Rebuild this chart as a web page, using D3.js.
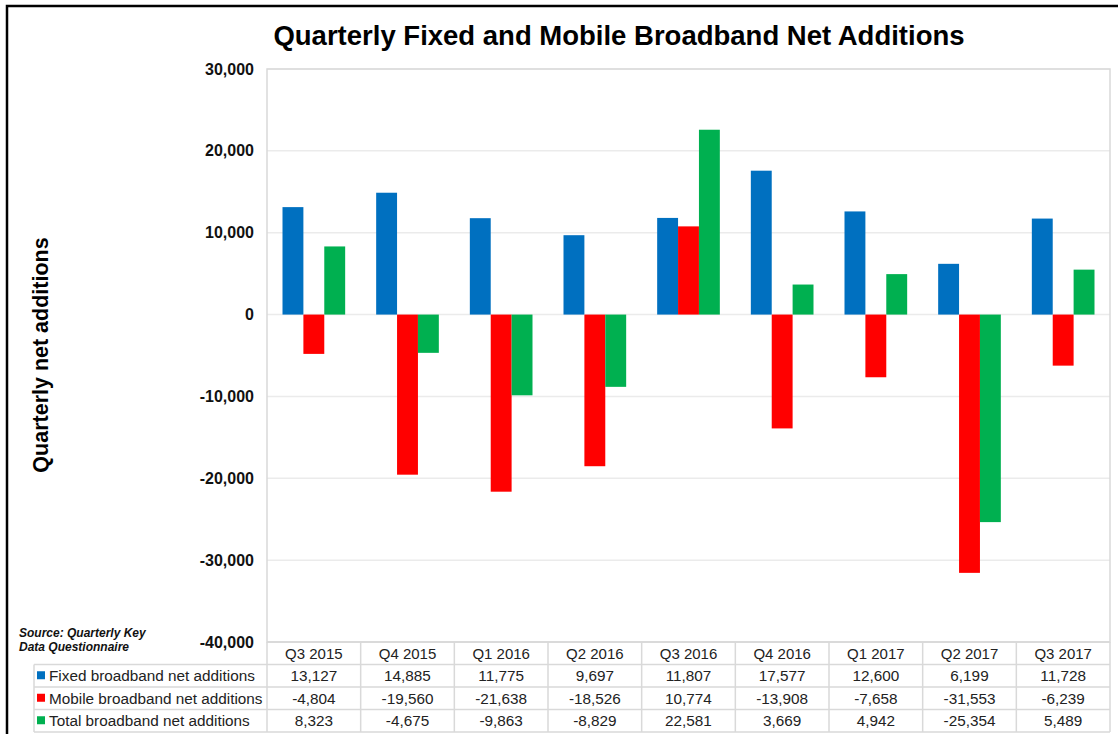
<!DOCTYPE html>
<html>
<head>
<meta charset="utf-8">
<script src="https://cdn.jsdelivr.net/npm/d3@7"></script>
<style>
  body { margin: 0; background: #fff; }
  svg { display: block; font-family: Arial, "Liberation Sans", sans-serif; }
</style>
</head>
<body>
<div id="chart"></div>
<script>
const WIDTH = 1118, HEIGHT = 734;
const PLOT_LEFT = 267, PLOT_RIGHT = 1110, PLOT_TOP = 69, PLOT_BOT = 642;
const ROW_H = 22.5;
const LEGEND_LEFT = 34;

// data
const quarters = ["Q3 2015", "Q4 2015", "Q1 2016", "Q2 2016", "Q3 2016", "Q4 2016", "Q1 2017", "Q2 2017", "Q3 2017"];
const fixedNet = [13127, 14885, 11775, 9697, 11807, 17577, 12600, 6199, 11728];
const mobileNet = [-4804, -19560, -21638, -18526, 10774, -13908, -7658, -31553, -6239];
const totalNet = [8323, -4675, -9863, -8829, 22581, 3669, 4942, -25354, 5489];
const seriesNames = ["Fixed broadband net additions", "Mobile broadband net additions", "Total broadband net additions"];
const seriesColors = ["#0070C0", "#FF0000", "#00B050"];
const yTicks = [30000, 20000, 10000, 0, -10000, -20000, -30000, -40000];

const series = [fixedNet, mobileNet, totalNet].map((vals, i) => ({
    name: seriesNames[i], color: seriesColors[i], values: vals
}))
const comma = d3.format(",")
const fmt = v => comma(v).replace("\u2212", "-")

const svg = d3.select("#chart").append("svg")
    .attr("width", WIDTH)
    .attr("height", HEIGHT)

// outer frame
svg.append("path")
    .attr("d", `M7,${HEIGHT + 5} V6 H${WIDTH + 5}`)
    .attr("fill", "none")
    .attr("stroke", "#000")
    .attr("stroke-width", 2.5)

const x = d3.scaleBand()
    .domain(quarters)
    .range([PLOT_LEFT, PLOT_RIGHT])
    .paddingInner(0)
    .paddingOuter(0)
const xInner = d3.scaleBand()
    .domain(d3.range(series.length))
    .range([15.5, x.bandwidth() - 15.5])
const y = d3.scaleLinear()
    .domain([-40000, 30000])
    .range([PLOT_BOT, PLOT_TOP])

// gridlines
svg.append("g")
    .selectAll("line")
    .data(yTicks)
    .join("line")
    .attr("x1", PLOT_LEFT).attr("x2", PLOT_RIGHT)
    .attr("y1", d => y(d)).attr("y2", d => y(d))
    .attr("stroke", "#ebebeb")
    .attr("stroke-width", 1.5)

// plot border
svg.append("rect")
    .attr("x", PLOT_LEFT).attr("y", PLOT_TOP)
    .attr("width", PLOT_RIGHT - PLOT_LEFT).attr("height", PLOT_BOT - PLOT_TOP)
    .attr("fill", "none")
    .attr("stroke", "#d9d9d9")
    .attr("stroke-width", 1.5)

// y axis labels
const yAxis = svg.append("g")
    .attr("transform", `translate(${PLOT_LEFT - 13},0)`)
    .call(d3.axisLeft(y).tickValues(yTicks).tickFormat(fmt).tickSize(0).tickPadding(0))
yAxis.select(".domain").remove()
yAxis.selectAll("text")
    .attr("font-family", "Arial, 'Liberation Sans', sans-serif")
    .attr("font-size", 16)
    .attr("font-weight", "bold")
    .attr("fill", "#111")

// bars
const groups = svg.append("g")
    .selectAll("g")
    .data(series)
    .join("g")
    .attr("fill", d => d.color)
groups.each(function (s, si) {
    d3.select(this).selectAll("rect")
        .data(s.values.map((v, i) => ({ q: quarters[i], v })))
        .join("rect")
        .attr("x", d => x(d.q) + xInner(si))
        .attr("width", xInner.bandwidth())
        .attr("y", d => y(Math.max(0, d.v)))
        .attr("height", d => Math.abs(y(d.v) - y(0)))
})

// title
svg.append("text")
    .attr("x", 619).attr("y", 45)
    .attr("text-anchor", "middle")
    .attr("font-size", 27.5)
    .attr("font-weight", "bold")
    .attr("fill", "#000")
    .text("Quarterly Fixed and Mobile Broadband Net Additions")

// y title
svg.append("text")
    .attr("transform", "translate(48,355) rotate(-90)")
    .attr("text-anchor", "middle")
    .attr("font-size", 21.5)
    .attr("font-weight", "bold")
    .attr("fill", "#000")
    .text("Quarterly net additions")

// source note
const src = svg.append("text")
    .attr("font-size", 12)
    .attr("font-weight", "bold")
    .attr("font-style", "italic")
    .attr("fill", "#111")
src.append("tspan").attr("x", 19).attr("y", 637).text("Source: Quarterly Key")
src.append("tspan").attr("x", 19).attr("y", 651).text("Data Questionnaire")

// data table
const table = svg.append("g")
const rowY = i => PLOT_BOT + ROW_H * (i + 1)
const lineColor = "#d9d9d9"
// horizontal lines
table.append("line")
    .attr("x1", PLOT_LEFT).attr("x2", PLOT_RIGHT)
    .attr("y1", PLOT_BOT).attr("y2", PLOT_BOT)
    .attr("stroke", lineColor).attr("stroke-width", 1.5)
d3.range(4).forEach(i => {
    table.append("line")
        .attr("x1", LEGEND_LEFT).attr("x2", PLOT_RIGHT)
        .attr("y1", rowY(i)).attr("y2", rowY(i))
        .attr("stroke", lineColor).attr("stroke-width", 1.5)
})
// vertical lines
quarters.concat(["end"]).forEach((q, i) => {
    const xx = i < quarters.length ? x(q) : PLOT_RIGHT
    table.append("line")
        .attr("x1", xx).attr("x2", xx)
        .attr("y1", PLOT_BOT).attr("y2", rowY(3))
        .attr("stroke", lineColor).attr("stroke-width", 1.5)
})
table.append("line")
    .attr("x1", LEGEND_LEFT).attr("x2", LEGEND_LEFT)
    .attr("y1", rowY(0)).attr("y2", rowY(3))
    .attr("stroke", lineColor).attr("stroke-width", 1.5)

// header
table.selectAll("text.hdr")
    .data(quarters)
    .join("text")
    .attr("class", "hdr")
    .attr("x", d => x(d) + x.bandwidth() / 2)
    .attr("y", PLOT_BOT + ROW_H / 2 + 5.5)
    .attr("text-anchor", "middle")
    .attr("font-size", 15)
    .attr("fill", "#222")
    .text(d => d)

// rows
series.forEach((s, si) => {
    const cy = rowY(si) + ROW_H / 2
    table.append("rect")
        .attr("x", 37).attr("y", cy - 4.5)
        .attr("width", 8).attr("height", 8)
        .attr("fill", s.color)
    table.append("text")
        .attr("x", 49).attr("y", cy + 5.5)
        .attr("font-size", 15.3)
        .attr("fill", "#222")
        .text(s.name)
    table.selectAll(null)
        .data(s.values)
        .join("text")
        .attr("x", (d, i) => x(quarters[i]) + x.bandwidth() / 2)
        .attr("y", cy + 5.5)
        .attr("text-anchor", "middle")
        .attr("font-size", 15.3)
        .attr("fill", "#222")
        .text(d => fmt(d))
})
</script>
</body>
</html>
